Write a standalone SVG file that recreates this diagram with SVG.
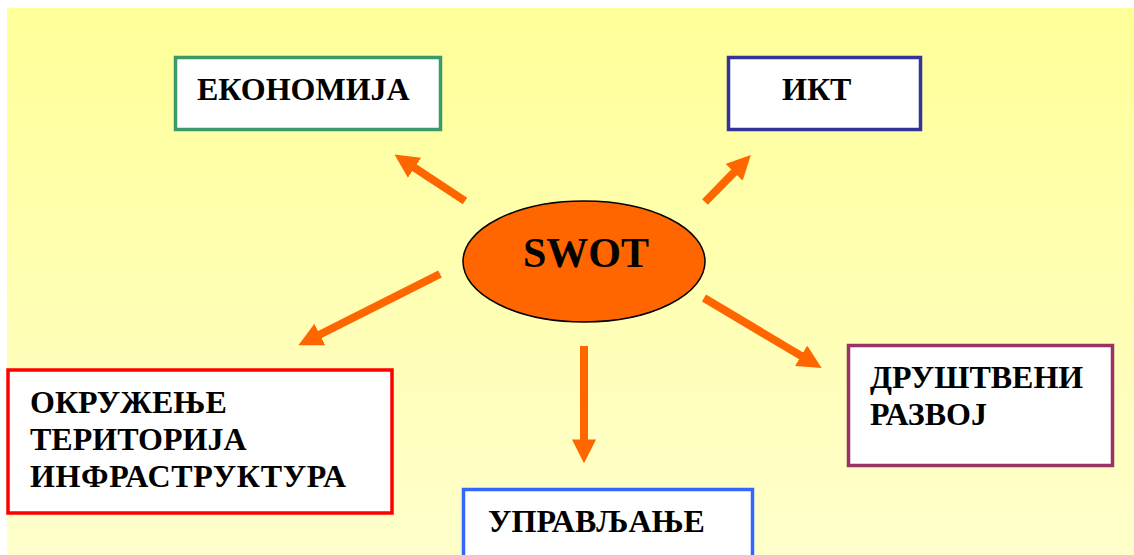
<svg xmlns="http://www.w3.org/2000/svg" width="1134" height="555" viewBox="0 0 1134 555">
  <defs>
    <linearGradient id="bg" x1="0" y1="0" x2="0" y2="1">
      <stop offset="0" stop-color="#FFFF99"/>
      <stop offset="1" stop-color="#FFFFCC"/>
    </linearGradient>
    <marker id="ah" markerUnits="strokeWidth" markerWidth="3" markerHeight="3" viewBox="0 0 3 3" refX="0.2" refY="1.5" orient="auto">
      <path d="M0,0 L3,1.5 L0,3 z" fill="#FF6600"/>
    </marker>
    <style>
      .box { fill: #FFFFFF; stroke-width: 3.5; }
      .lbl { font-family: "Liberation Serif", "Times New Roman", serif; font-weight: bold; font-size: 32px; fill: #000000; }
      .conn { stroke: #FF6600; stroke-width: 8; fill: none; marker-end: url(#ah); }
    </style>
  </defs>

  <rect x="7" y="8" width="1127" height="547" fill="url(#bg)"/>

  <g id="connectors">
    <line class="conn" x1="465" y1="201" x2="413.2" y2="166.9"/>
    <line class="conn" x1="705" y1="202" x2="735.2" y2="171.1"/>
    <line class="conn" x1="440" y1="274" x2="318.4" y2="335.2"/>
    <line class="conn" x1="704" y1="298" x2="802.4" y2="356.6"/>
    <line class="conn" x1="584" y1="346" x2="584" y2="441"/>
  </g>

  <g id="node-swot">
    <ellipse cx="584" cy="261.5" rx="121" ry="60.5" fill="#FF6600" stroke="#000000" stroke-width="1.5"/>
    <text class="lbl" x="586" y="267" text-anchor="middle" style="font-size:42px">SWOT</text>
  </g>

  <g id="node-ekonomija">
    <rect class="box" x="175.5" y="57.5" width="265" height="72" stroke="#3A9A6A"/>
    <text class="lbl" x="197" y="100">ЕКОНОМИЈА</text>
  </g>

  <g id="node-ikt">
    <rect class="box" x="728.5" y="57.5" width="192" height="72" stroke="#333399"/>
    <text class="lbl" x="782" y="100">ИКТ</text>
  </g>

  <g id="node-okruzenje">
    <rect class="box" x="8" y="370" width="384" height="143" stroke="#FF0000" stroke-width="4"/>
    <text class="lbl" x="30" y="413">ОКРУЖЕЊЕ</text>
    <text class="lbl" x="30" y="450">ТЕРИТОРИЈА</text>
    <text class="lbl" x="30" y="487" textLength="316" lengthAdjust="spacing">ИНФРАСТРУКТУРА</text>
  </g>

  <g id="node-drustveni">
    <rect class="box" x="848.5" y="345.5" width="264" height="120" stroke="#993366"/>
    <text class="lbl" x="870" y="388">ДРУШТВЕНИ</text>
    <text class="lbl" x="870" y="425">РАЗВОЈ</text>
  </g>

  <g id="node-upravljanje">
    <rect class="box" x="463.5" y="489.5" width="289" height="100" stroke="#3366FF"/>
    <text class="lbl" x="488" y="532">УПРАВЉАЊЕ</text>
  </g>
</svg>
